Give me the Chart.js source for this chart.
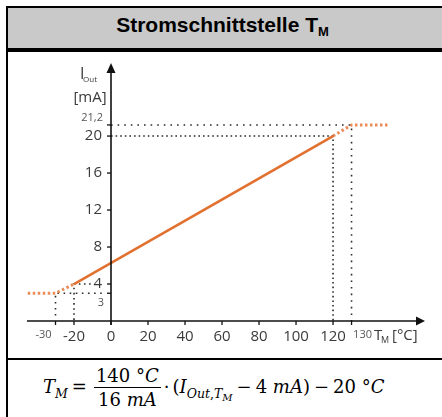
<!DOCTYPE html>
<html><head><meta charset="utf-8">
<script src="https://cdn.jsdelivr.net/npm/chart.js@4/dist/chart.umd.min.js"></script>
<style>
html,body{margin:0;padding:0;background:#fff;width:442px;height:417px;overflow:hidden;}
#vleft{position:absolute;left:6px;top:6px;width:2px;height:420px;background:#000;}
#htop{position:absolute;left:6px;top:6px;width:440px;height:2px;background:#000;}
#head{position:absolute;left:8px;top:8px;width:440px;height:40px;background:#c9c9c9;}
#hline{position:absolute;left:6px;top:48px;width:440px;height:4px;background:#000;}
#fline{position:absolute;left:6px;top:358px;width:440px;height:2px;background:#000;}
#title{position:absolute;left:8px;top:14px;width:429px;text-align:center;font:bold 21px "Liberation Sans",Arial,sans-serif;line-height:22px;color:#000;}
#title sub{font-size:13px;vertical-align:-4px;line-height:0;}
#formula{position:absolute;left:43px;top:367px;font:18px "DejaVu Serif",serif;white-space:nowrap;line-height:1;color:#000;}
#formula i{font-style:italic;}
#formula sub{font-size:12.5px;vertical-align:-5px;line-height:0;}
#formula sub sub{font-size:10px;vertical-align:-3px;}
.frac{display:inline-block;vertical-align:middle;text-align:center;margin:0 3px;}
.num{display:block;border-bottom:1.5px solid #000;padding:0 2px 2px 2px;}
.den{display:block;padding-top:3px;}
.op{margin:0 4px;}
canvas{position:absolute;left:0;top:0;}
</style>
</head>
<body>
<div id="head"></div>
<div id="vleft"></div><div id="htop"></div><div id="hline"></div><div id="fline"></div>
<div id="title">Stromschnittstelle T<sub>M</sub></div>
<div id="formula"><i>T</i><sub><i>M</i></sub><span class="op">=</span><span class="frac"><span class="num">140 °<i>C</i></span><span class="den">16 <i>mA</i></span></span>·<span style="margin-left:3px">(</span><i>I</i><sub><i>Out</i>,<i>T</i><sub><i>M</i></sub></sub><span class="op">−</span>4 <i>mA</i>)<span class="op">−</span>20 °<i>C</i></div>
<canvas id="c" width="442" height="417"></canvas>
<script>
// ---- data ----
const lineT = [-20, 120];
const lineI = [4, 20];
const lowT = [-45, -30, -20];
const lowI = [3, 3, 4];
const highT = [120, 130, 150];
const highI = [20, 21.2, 21.2];
const guide212T = [0, 130, 130];
const guide212I = [21.2, 21.2, 0];
const guide20T = [0, 120, 120];
const guide20I = [20, 20, 0];
const guide4T = [-11, -20, -20];
const guide4I = [4, 4, 0];
const guide3T = [-5, -30, -30];
const guide3I = [3, 3, 0.6];
const yTicks = [4, 8, 12, 16, 20];
const yTickLabels = ['4', '8', '12', '16', '20'];
const yMinor = [3, 21.2];
const yMinorLabels = ['3', '21,2'];
const xTicks = [-20, 0, 20, 40, 60, 80, 100, 120];
const xTickLabels = ['-20', '0', '20', '40', '60', '80', '100', '120'];
const xMinor = [-30, 130];
const xMinorLabels = ['-30', '130'];

const pts = (xs, ys) => xs.map((x, i) => ({x: x, y: ys[i]}));
const orange = '#e2702f';
const dotCol = '#2b2b2b';

const guideDs = (xs, ys, dash) => ({
  data: pts(xs, ys), borderColor: dotCol, borderWidth: 1.6, borderDash: dash,
  pointRadius: 0, fill: false, tension: 0, order: 3
});

const axesPlugin = {
  id: 'axesPlugin',
  afterDraw(chart) {
    const ctx = chart.ctx;
    const xs = chart.scales.x, ys = chart.scales.y;
    const x0 = xs.getPixelForValue(0);
    const y0 = ys.getPixelForValue(0);
    const xL = chart.chartArea.left, xR = chart.chartArea.right, yT = chart.chartArea.top;
    ctx.save();
    ctx.strokeStyle = '#111'; ctx.fillStyle = '#111'; ctx.lineWidth = 1.6;
    // x axis
    ctx.beginPath(); ctx.moveTo(xL, y0); ctx.lineTo(xR - 6, y0); ctx.stroke();
    ctx.beginPath(); ctx.moveTo(xR, y0); ctx.lineTo(xR - 9, y0 - 4.5); ctx.lineTo(xR - 9, y0 + 4.5); ctx.closePath(); ctx.fill();
    // y axis
    ctx.beginPath(); ctx.moveTo(x0, y0 + 4); ctx.lineTo(x0, yT + 6); ctx.stroke();
    ctx.beginPath(); ctx.moveTo(x0, yT); ctx.lineTo(x0 - 4.5, yT + 10); ctx.lineTo(x0 + 4.5, yT + 10); ctx.closePath(); ctx.fill();
    // ticks
    ctx.lineWidth = 1.3;
    yTicks.concat(yMinor).forEach(v => {
      const p = ys.getPixelForValue(v);
      ctx.beginPath(); ctx.moveTo(x0 - 4, p); ctx.lineTo(x0, p); ctx.stroke();
    });
    xTicks.concat(xMinor).forEach(v => {
      const p = xs.getPixelForValue(v);
      ctx.beginPath(); ctx.moveTo(p, y0); ctx.lineTo(p, y0 + 4); ctx.stroke();
    });
    // labels
    ctx.fillStyle = '#3a3a3a';
    ctx.font = '15px "Open Sans", "DejaVu Sans", sans-serif';
    ctx.textAlign = 'right'; ctx.textBaseline = 'middle';
    yTicks.forEach((v, i) => ctx.fillText(yTickLabels[i], x0 - 9, ys.getPixelForValue(v)));
    ctx.textAlign = 'center';
    xTicks.forEach((v, i) => ctx.fillText(xTickLabels[i], xs.getPixelForValue(v), y0 + 16));
    ctx.fillStyle = '#555';
    ctx.font = '11px "Open Sans", "DejaVu Sans", sans-serif';
    // minor y labels
    ctx.textAlign = 'right';
    ctx.fillText(yMinorLabels[1], x0 - 8, ys.getPixelForValue(yMinor[1]) - 7);
    ctx.textAlign = 'center';
    ctx.fillText(yMinorLabels[0], x0 - 10, ys.getPixelForValue(yMinor[0]) + 10);
    // minor x labels
    ctx.fillText(xMinorLabels[0], xs.getPixelForValue(xMinor[0]) - 12, y0 + 14);
    ctx.fillText(xMinorLabels[1], xs.getPixelForValue(xMinor[1]) + 11, y0 + 14);
    // axis titles
    ctx.fillStyle = '#3a3a3a';
    ctx.textAlign = 'left';
    ctx.font = '16px "Open Sans", "DejaVu Sans", sans-serif';
    ctx.fillText('I', x0 - 31, yT + 11);
    ctx.font = '8px "Open Sans", "DejaVu Sans", sans-serif';
    ctx.fillText('Out', x0 - 28, yT + 17);
    ctx.font = '15px "Open Sans", "DejaVu Sans", sans-serif';
    ctx.textAlign = 'center';
    ctx.fillText('[mA]', x0 - 21, yT + 35);
    ctx.textAlign = 'left';
    ctx.fillText('T', xR - 51, y0 + 15);
    ctx.font = '9px "Open Sans", "DejaVu Sans", sans-serif';
    ctx.fillText('M', xR - 44, y0 + 19);
    ctx.font = '15px "Open Sans", "DejaVu Sans", sans-serif';
    ctx.fillText('[°C]', xR - 33, y0 + 15);
    ctx.restore();
  }
};

new Chart(document.getElementById('c'), {
  type: 'line',
  data: {
    datasets: [
      {data: pts(lineT, lineI), borderColor: orange, borderWidth: 2.6, pointRadius: 0, fill: false, tension: 0, order: 1},
      {data: pts(lowT, lowI), borderColor: 'rgba(230,120,60,0.85)', borderWidth: 3, borderDash: [2.5, 2.5], pointRadius: 0, fill: false, tension: 0, order: 2},
      {data: pts(highT, highI), borderColor: 'rgba(230,120,60,0.85)', borderWidth: 3, borderDash: [2.5, 2.5], pointRadius: 0, fill: false, tension: 0, order: 2},
      guideDs(guide212T, guide212I, [1.6, 5]),
      guideDs(guide20T, guide20I, [1.6, 3]),
      guideDs(guide4T, guide4I, [1.6, 3.5]),
      guideDs(guide3T, guide3I, [1.6, 4.5])
    ]
  },
  options: {
    responsive: false,
    animation: false,
    devicePixelRatio: 1,
    layout: {padding: {left: 27, right: 17, top: 63, bottom: 96}},
    plugins: {legend: {display: false}, tooltip: {enabled: false}},
    scales: {
      x: {type: 'linear', min: -45.4, max: 169.7, display: false},
      y: {type: 'linear', min: 0, max: 27.9, display: false}
    }
  },
  plugins: [axesPlugin]
});
</script>
</body></html>
